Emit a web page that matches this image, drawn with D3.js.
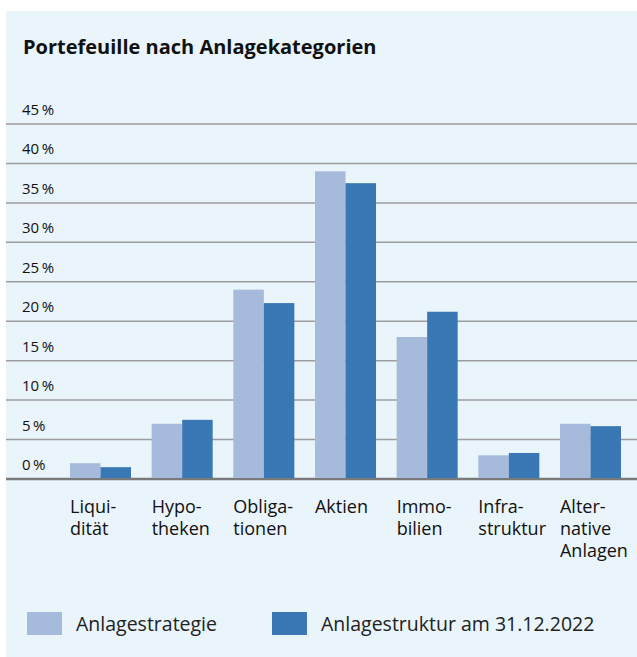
<!DOCTYPE html>
<html>
<head>
<meta charset="utf-8">
<script src="https://cdn.jsdelivr.net/npm/d3@7"></script>
<style>
  body { margin: 0; background: #fff; }
  text { font-family: "Open Sans", "Noto Sans", sans-serif; fill: #111; }
</style>
</head>
<body>
<div id="chart"></div>
<script>
// data
categories = ["Liquidität", "Hypotheken", "Obligationen", "Aktien", "Immobilien", "Infrastruktur", "Alternative Anlagen"]
catLabels = [["Liqui-", "dität"], ["Hypo-", "theken"], ["Obliga-", "tionen"], ["Aktien"], ["Immo-", "bilien"], ["Infra-", "struktur"], ["Alter-", "native", "Anlagen"]]
strategie = [2.0, 7.0, 24.0, 39.0, 18.0, 3.0, 7.0]
struktur = [1.5, 7.5, 22.3, 37.5, 21.2, 3.3, 6.7]
yTicks = [0, 5, 10, 15, 20, 25, 30, 35, 40, 45]
seriesNames = ["Anlagestrategie", "Anlagestruktur am 31.12.2022"]
colors = ["#a6badc", "#3a78b5"]

W = 637, H = 657

svg = d3.select("#chart")
  .append("svg")
  .attr("width", W)
  .attr("height", H)

// panel
svg.append("rect")
  .attr("x", 6).attr("y", 11)
  .attr("width", W - 6).attr("height", H - 11)
  .attr("fill", "#e9f4fb")

svg.append("text")
  .attr("x", 23).attr("y", 54)
  .style("font-size", "20px")
  .style("font-weight", "bold")
  .text("Portefeuille nach Anlagekategorien")

y = d3.scaleLinear().domain([0, 45]).range([479, 124])

x = d3.scaleBand()
  .domain(categories)
  .range([70, 621])
  .paddingInner(0.253)
  .paddingOuter(0)

xs = d3.scaleBand()
  .domain([0, 1])
  .range([0, x.bandwidth()])

// grid lines + labels
grid = svg.append("g")
grid.selectAll("line")
  .data(yTicks)
  .join("line")
    .attr("x1", 6).attr("x2", W)
    .attr("y1", d => y(d)).attr("y2", d => y(d))
    .attr("stroke", d => d === 0 ? "#7a7a7a" : "#9d9d9d")
    .attr("stroke-width", d => d === 0 ? 2.5 : 1.5)

grid.selectAll("text")
  .data(yTicks)
  .join("text")
    .attr("x", 22)
    .attr("y", d => y(d) - 9)
    .style("font-size", "15px")
    .text(d => d + "\u2009%")

// bars
groups = svg.append("g").selectAll("g")
  .data(categories)
  .join("g")
    .attr("transform", d => `translate(${x(d)},0)`)

groups.selectAll("rect")
  .data((d, i) => [strategie[i], struktur[i]])
  .join("rect")
    .attr("x", (d, j) => xs(j))
    .attr("y", d => y(d))
    .attr("width", xs.bandwidth())
    .attr("height", d => y(0) - y(d) - 1)
    .attr("fill", (d, j) => colors[j])

// category labels
labels = svg.append("g").selectAll("text")
  .data(categories)
  .join("text")
    .attr("x", d => x(d))
    .attr("y", 513)
    .style("font-size", "18px")

labels.selectAll("tspan")
  .data((d, i) => catLabels[i])
  .join("tspan")
    .attr("x", function() { return this.parentNode.getAttribute("x") })
    .attr("dy", (d, k) => k === 0 ? 0 : 22)
    .text(d => d)

// legend
legX = [27, 272]
legend = svg.append("g").selectAll("g")
  .data(seriesNames)
  .join("g")
    .attr("transform", (d, i) => `translate(${legX[i]},612)`)
legend.append("rect")
  .attr("width", 35).attr("height", 23)
  .attr("fill", (d, i) => colors[i])
legend.append("text")
  .attr("x", 49).attr("y", 19)
  .style("font-size", "19.5px")
  .style("fill", "#222")
  .text(d => d)
</script>
</body>
</html>
